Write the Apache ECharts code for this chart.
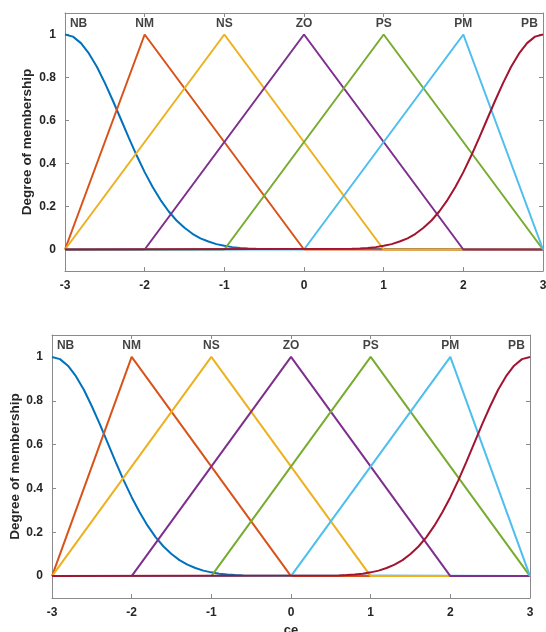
<!DOCTYPE html>
<html><head><meta charset="utf-8">
<script src="https://cdn.jsdelivr.net/npm/echarts@6/dist/echarts.min.js"></script>
<style>html,body{margin:0;padding:0;background:#fff}#c{width:546px;height:632px}</style>
</head><body><div id="c"></div>
<script>
// ---- data ----
const mfNames = ['NB','NM','NS','ZO','PS','PM','PB'];
const mfColors = ['#0072BD','#D95319','#EDB120','#7E2F8E','#77AC30','#4DBEEE','#A2142F'];
// NB: bell shaped, top at -3
const nbX = [-3,-2.9,-2.8,-2.7,-2.6,-2.5,-2.4,-2.3,-2.2,-2.1,-2,-1.9,-1.8,-1.7,-1.6,-1.5,-1.4,-1.3,-1.2,-1.1,-1,-0.9,-0.8,-0.7,-0.6,3];
const nbY = [1,0.99,0.96,0.912,0.85,0.775,0.693,0.607,0.52,0.437,0.36,0.291,0.23,0.178,0.135,0.101,0.073,0.052,0.037,0.025,0.017,0.011,0.007,0.0045,0.003,0];
// triangles
const nmX = [-3,-2,0,3];   const nmY = [0,1,0,0];
const nsX = [-3,-1,1,3];   const nsY = [0,1,0,0];
const zoX = [-3,-2,0,2,3]; const zoY = [0,0,1,0,0];
const psX = [-3,-1,1,3];   const psY = [0,0,1,0];
const pmX = [-3,0,2,3];    const pmY = [0,0,1,0];
// PB: bell shaped, top at 3
const pbX = [-3,0.6,0.7,0.8,0.9,1,1.1,1.2,1.3,1.4,1.5,1.6,1.7,1.8,1.9,2,2.1,2.2,2.3,2.4,2.5,2.6,2.7,2.8,2.9,3];
const pbY = [0,0.003,0.0045,0.007,0.011,0.017,0.025,0.037,0.052,0.073,0.101,0.135,0.178,0.23,0.291,0.36,0.437,0.52,0.607,0.693,0.775,0.85,0.912,0.96,0.99,1];
const labelX = [-2.83,-2,-1,0,1,2,2.83];
const labelY = 1.05;
const xTicks = [-3,-2,-1,0,1,2,3];
const yTicks = [0,0.2,0.4,0.6,0.8,1];
const yName = 'Degree of membership';
const xName = 'ce';

const mfX = [nbX,nmX,nsX,zoX,psX,pmX,pbX];
const mfY = [nbY,nmY,nsY,zoY,psY,pmY,pbY];

const chart = echarts.init(document.getElementById('c'));
const axisCol = '#8a8a8a';
const txtCol = '#262626';
const font = 'Liberation Sans, Arial, sans-serif';

const grids = [
  {left:65, right:3, top:13, height:258, outerBoundsMode:'none', containLabel:false},
  {left:52, right:16, top:335, height:263, outerBoundsMode:'none', containLabel:false}
];
const nameGaps = [31, 30];
const xAxes = [], yAxes = [], series = [];
grids.forEach((g, gi) => {
  const base = {
    gridIndex: gi, type:'value', min:-3, max:3, interval:1,
    axisLine:{show:true, onZero:false, lineStyle:{color:axisCol, width:1}},
    axisTick:{show:true, inside:true, length:4, lineStyle:{color:axisCol}},
    splitLine:{show:false}
  };
  xAxes.push(Object.assign({}, base, {position:'bottom',
    axisLabel:{show:true, margin:9, color:txtCol, fontFamily:font, fontWeight:'bold', fontSize:12},
    name: gi === 1 ? xName : '', nameLocation:'middle', nameGap:26, nameMoveOverlap:false,
    nameTextStyle:{color:txtCol, fontFamily:font, fontWeight:'bold', fontSize:13}
  }));
  xAxes.push(Object.assign({}, base, {position:'top', axisLabel:{show:false}}));
  const ybase = {
    gridIndex: gi, type:'value', min:-0.1, max:1.1,
    axisLine:{show:true, onZero:false, lineStyle:{color:axisCol, width:1}},
    axisTick:{show:true, inside:true, length:4, customValues: yTicks, lineStyle:{color:axisCol}},
    splitLine:{show:false}
  };
  yAxes.push(Object.assign({}, ybase, {position:'left',
    axisLabel:{show:true, margin:9, customValues: yTicks, color:txtCol, fontFamily:font, fontWeight:'bold', fontSize:12},
    name: yName, nameLocation:'middle', nameGap:nameGaps[gi], nameRotate:90, nameMoveOverlap:false,
    nameTextStyle:{color:txtCol, fontFamily:font, fontWeight:'bold', fontSize:13.5}
  }));
  yAxes.push(Object.assign({}, ybase, {position:'right', axisLabel:{show:false}}));
  mfNames.forEach((n, i) => {
    series.push({
      type:'line', name:n, xAxisIndex: gi*2, yAxisIndex: gi*2,
      data: mfX[i].map((x, k) => [x, mfY[i][k]]),
      showSymbol:false, symbol:'none', smooth:false,
      lineStyle:{color: mfColors[i], width:2},
      animation:false, z: 2 + i
    });
  });
  series.push({
    type:'scatter', xAxisIndex: gi*2, yAxisIndex: gi*2,
    data: mfNames.map((n, i) => ({value:[labelX[i], labelY], name:n})),
    symbolSize: 0, animation:false, z: 20,
    label:{show:true, position:'inside', formatter: p => p.name,
      color:'#111', fontFamily:font, fontWeight:'bold', fontSize:12}
  });
});

chart.setOption({
  animation:false,
  grid: grids,
  xAxis: xAxes,
  yAxis: yAxes,
  series: series
});
</script>
</body></html>
